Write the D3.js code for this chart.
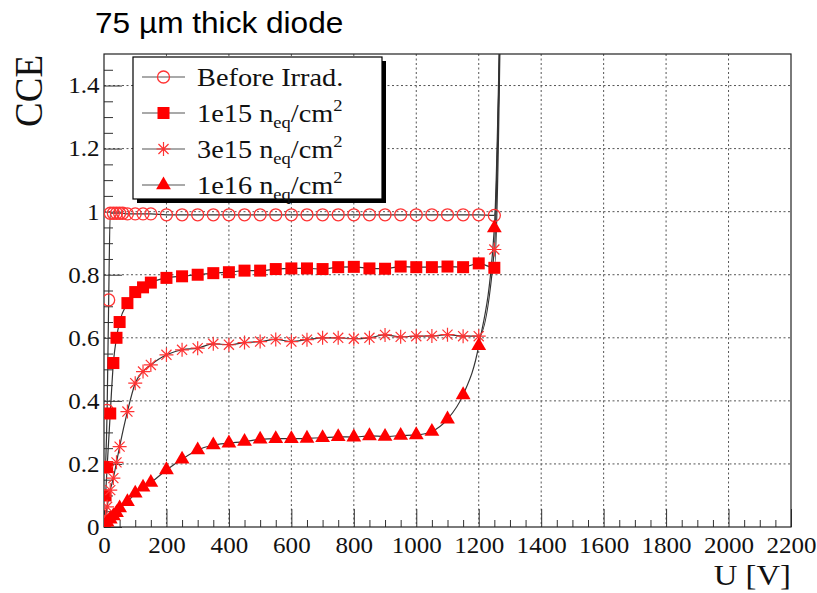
<!DOCTYPE html>
<html lang="en">
<head>
<meta charset="UTF-8">
<script src="https://cdn.jsdelivr.net/npm/d3@7"></script>
<style>
  body { margin: 0; background: #fff; }
  svg { display: block; }
  .serif { font-family: "Liberation Serif", "Times New Roman", serif; }
  .sans { font-family: "Liberation Sans", Arial, sans-serif; }
</style>
</head>
<body>
<svg id="chart" width="817" height="593"></svg>
<script>
// values (U in volts, CCE)
const beforeU   = [5, 10, 15, 20, 30, 40, 50, 60, 75, 100, 125, 150,
                   200, 250, 300, 350, 400, 450, 500, 550, 600, 650, 700, 750,
                   800, 850, 900, 950, 1000, 1050, 1100, 1150, 1200, 1250, 1275];
const beforeCCE = [0.19, 0.37, 0.72, 0.995, 0.995, 0.995, 0.995, 0.995, 0.993, 0.993, 0.993, 0.993,
                   0.99, 0.99, 0.99, 0.99, 0.99, 0.99, 0.99, 0.99, 0.99, 0.99, 0.99, 0.99,
                   0.99, 0.99, 0.99, 0.99, 0.99, 0.99, 0.99, 0.99, 0.99, 0.988, 2.0];

const irradU = [5, 10, 20, 30, 40, 50, 75, 100, 125, 150,
                200, 250, 300, 350, 400, 450, 500, 550, 600, 650, 700, 750,
                800, 850, 900, 950, 1000, 1050, 1100, 1150, 1200, 1250, 1275];
const cce1e15 = [0.10, 0.19, 0.36, 0.52, 0.60, 0.65, 0.71, 0.745, 0.76, 0.775,
                 0.79, 0.795, 0.80, 0.805, 0.808, 0.813, 0.813, 0.818, 0.82, 0.82, 0.818, 0.824,
                 0.825, 0.82, 0.819, 0.826, 0.824, 0.824, 0.826, 0.824, 0.836, 0.822, 2.0];
const cce3e15 = [0.033, 0.064, 0.117, 0.155, 0.205, 0.255, 0.366, 0.456, 0.493, 0.514,
                 0.546, 0.562, 0.567, 0.581, 0.578, 0.585, 0.588, 0.595, 0.588, 0.594, 0.60, 0.60,
                 0.597, 0.60, 0.609, 0.603, 0.605, 0.606, 0.61, 0.605, 0.605, 0.88, 2.0];
const cce1e16 = [0.005, 0.015, 0.025, 0.035, 0.045, 0.06, 0.08, 0.107, 0.126, 0.141,
                 0.181, 0.215, 0.244, 0.26, 0.266, 0.271, 0.278, 0.28, 0.28, 0.281, 0.283, 0.286,
                 0.285, 0.289, 0.287, 0.29, 0.292, 0.303, 0.342, 0.419, 0.575, 0.948, 2.0];

const xTicks = [0, 200, 400, 600, 800, 1000, 1200, 1400, 1600, 1800, 2000, 2200];
const yTicks = [0, 0.2, 0.4, 0.6, 0.8, 1, 1.2, 1.4];
const legendNames = ["Before Irrad.", "1e15", "3e15", "1e16"];

// layout
const plot = {left: 104, right: 791, top: 54, bottom: 527};
const SX = 1.09; // the original picture is a little wider than tall

const x = d3.scaleLinear().domain([0, 2200]).range([plot.left, plot.right]);
const y = d3.scaleLinear().domain([0, 1.5]).range([plot.bottom, plot.top]);

const svg = d3.select("#chart");

svg.append("defs").append("clipPath").attr("id", "clip")
  .append("rect")
  .attr("x", plot.left).attr("y", plot.top)
  .attr("width", plot.right - plot.left).attr("height", plot.bottom - plot.top);

// dotted grid
const grid = svg.append("g").attr("stroke", "#555").attr("stroke-width", 1).attr("stroke-dasharray", "2,2.5");
grid.selectAll(".gx").data(xTicks.filter(d => d > 0 && d < 2200)).join("line").attr("class", "gx")
  .attr("x1", d => x(d)).attr("x2", d => x(d)).attr("y1", plot.top).attr("y2", plot.bottom);
grid.selectAll(".gy").data(yTicks.filter(d => d > 0)).join("line").attr("class", "gy")
  .attr("y1", d => y(d)).attr("y2", d => y(d)).attr("x1", plot.left).attr("x2", plot.right);

// minor ticks
const xMinor = d3.range(50, 2200, 50).filter(d => d % 200 !== 0);
const yMinor = d3.range(1, 30).map(i => i * 0.05).filter(d => Math.round(d * 100) % 20 !== 0);

svg.append("g").attr("transform", `translate(0,${plot.bottom})`)
  .call(d3.axisBottom(x).tickValues(xMinor).tickSize(-7).tickSizeOuter(0).tickFormat(""))
  .call(g => g.select(".domain").remove());
svg.append("g").attr("transform", `translate(${plot.left},0)`)
  .call(d3.axisLeft(y).tickValues(yMinor).tickSize(-9).tickSizeOuter(0).tickFormat(""))
  .call(g => g.select(".domain").remove());

// major ticks + labels
const xAxis = svg.append("g").attr("transform", `translate(0,${plot.bottom})`)
  .call(d3.axisBottom(x).tickValues(xTicks).tickSize(-18).tickSizeOuter(0).tickPadding(10).tickFormat(d => String(d)));
xAxis.select(".domain").remove();
xAxis.selectAll("text").attr("class", "serif").style("font-size", "23px").attr("fill", "#111")
  .attr("transform", `scale(${SX},1)`);

const yAxis = svg.append("g").attr("transform", `translate(${plot.left},0)`)
  .call(d3.axisLeft(y).tickValues(yTicks).tickSize(-18).tickSizeOuter(0).tickPadding(4).tickFormat(d => String(d)));
yAxis.select(".domain").remove();
yAxis.selectAll("text").attr("class", "serif").style("font-size", "23px").attr("fill", "#111")
  .attr("transform", `scale(${SX},1)`);
svg.selectAll(".tick line").attr("stroke", "#333");

// frame
svg.append("rect")
  .attr("x", plot.left).attr("y", plot.top)
  .attr("width", plot.right - plot.left).attr("height", plot.bottom - plot.top)
  .attr("fill", "none").attr("stroke", "#222").attr("stroke-width", 1.2);

// series
const series = [
  {u: beforeU, v: beforeCCE, marker: "circle"},
  {u: irradU,  v: cce1e15,  marker: "square"},
  {u: irradU,  v: cce3e15,  marker: "star"},
  {u: irradU,  v: cce1e16,  marker: "triangle"}
];

const line = d3.line().x(d => x(d[0])).y(d => y(d[1])).curve(d3.curveMonotoneX);
const data = g => g.u.map((u, i) => [u, g.v[i]]);

const plotArea = svg.append("g").attr("clip-path", "url(#clip)");

plotArea.selectAll(".curve").data(series).join("path").attr("class", "curve")
  .attr("d", s => line(data(s)))
  .attr("fill", "none").attr("stroke", "#333").attr("stroke-width", 1.2);

function starPath(r) {
  const k = r * 0.72;
  return `M0,${-r}L0,${r}M${-r},0L${r},0M${-k},${-k}L${k},${k}M${-k},${k}L${k},${-k}`;
}

function drawMarker(g, kind) {
  if (kind === "circle") {
    g.append("circle").attr("r", 6).attr("fill", "none").attr("stroke", "#f33").attr("stroke-width", 1.3);
  } else if (kind === "square") {
    g.append("rect").attr("x", -6).attr("y", -6).attr("width", 12).attr("height", 12).attr("fill", "#f00");
  } else if (kind === "star") {
    g.append("path").attr("d", starPath(7)).attr("stroke", "#f33").attr("stroke-width", 1.2).attr("fill", "none");
  } else {
    g.append("path").attr("d", d3.symbol(d3.symbolTriangle, 95)()).attr("fill", "#f00");
  }
}

series.forEach(s => {
  plotArea.append("g").selectAll("g").data(data(s)).join("g")
    .attr("transform", d => `translate(${x(d[0])},${y(d[1])})`)
    .each(function() { drawMarker(d3.select(this), s.marker); });
});

// legend
const lg = svg.append("g");
lg.append("rect").attr("x", 137).attr("y", 61).attr("width", 249).attr("height", 142).attr("fill", "#000");
lg.append("rect").attr("x", 133).attr("y", 57).attr("width", 249).attr("height", 142)
  .attr("fill", "#fff").attr("stroke", "#000").attr("stroke-width", 1.2);

legendNames.forEach((name, i) => {
  const cy = 77 + i * 36;
  lg.append("line").attr("x1", 142).attr("x2", 185).attr("y1", cy).attr("y2", cy)
    .attr("stroke", "#555").attr("stroke-width", 1.2);
  const m = lg.append("g").attr("transform", `translate(163.5,${cy})`);
  drawMarker(m, series[i].marker);

  const t = lg.append("text").attr("class", "serif")
    .attr("transform", `translate(197,${cy + 9}) scale(${SX},1)`)
    .style("font-size", "26px").attr("fill", "#111");
  if (i === 0) {
    t.text(name);
  } else {
    t.append("tspan").text(name + " n");
    t.append("tspan").attr("dy", 6).style("font-size", "17px").text("eq");
    t.append("tspan").attr("dy", -6).text("/cm");
    t.append("tspan").attr("dy", -11).style("font-size", "17px").text("2");
  }
});

// titles
svg.append("text").attr("class", "sans")
  .attr("transform", `translate(95,33) scale(${SX},1)`)
  .style("font-size", "29px").attr("fill", "#000")
  .text("75 \u00b5m thick diode");

svg.append("text").attr("class", "serif")
  .attr("transform", `translate(42,55) scale(${SX},1) rotate(-90)`)
  .attr("text-anchor", "end")
  .style("font-size", "37px").attr("fill", "#111")
  .text("CCE");

svg.append("text").attr("class", "serif")
  .attr("transform", `translate(791,585) scale(${SX},1)`)
  .attr("text-anchor", "end")
  .style("font-size", "30px").attr("fill", "#111")
  .text("U [V]");
</script>
</body>
</html>
